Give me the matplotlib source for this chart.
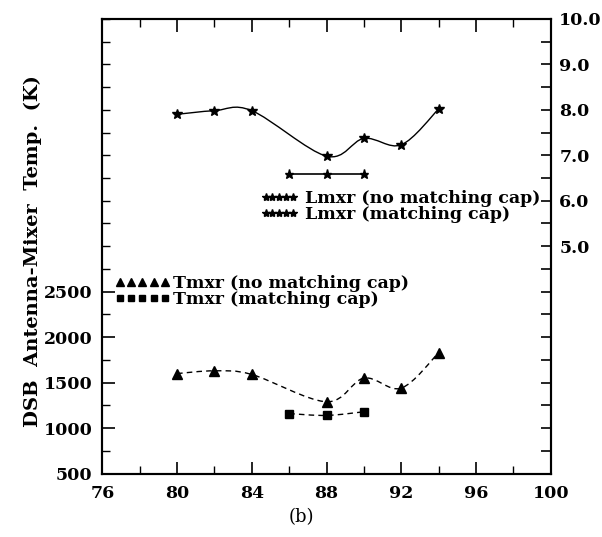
import numpy as np
import matplotlib
matplotlib.use("Agg")
import matplotlib.pyplot as plt
from matplotlib.path import Path
from matplotlib.patches import PathPatch
from matplotlib.ticker import MultipleLocator, FixedLocator, FixedFormatter

plt.rcParams['font.family'] = ['DejaVu Serif']

# frequency (GHz)
freq_no_cap = [80, 82, 84, 88, 90, 92, 94]
freq_cap = [86, 88, 90]

# mixer noise temperature (K), left axis
tmxr_no_cap = [1600, 1630, 1590, 1290, 1550, 1440, 1830]
tmxr_cap = [1160, 1140, 1180]

# mixer conversion loss (dB), right axis
lmxr_no_cap = [7.90, 7.98, 7.98, 6.98, 7.37, 7.23, 8.02]
lmxr_cap = [6.59, 6.59, 6.59]

left_ticks = [500, 1000, 1500, 2000, 2500]
right_ticks = [5.0, 6.0, 7.0, 8.0, 9.0, 10.0]


def smooth_path(xs, ys):
    # catmull-rom through the points, as bezier segments
    pts = np.column_stack([xs, ys]).astype(float)
    verts = [pts[0]]
    codes = [Path.MOVETO]
    n = len(pts)
    for i in range(n - 1):
        p0 = pts[i - 1] if i > 0 else pts[i]
        p1 = pts[i]
        p2 = pts[i + 1]
        p3 = pts[i + 2] if i + 2 < n else pts[i + 1]
        c1 = p1 + (p2 - p0) / 6.0
        c2 = p2 - (p3 - p1) / 6.0
        verts += [c1, c2, p2]
        codes += [Path.CURVE4] * 3
    return Path(verts, codes)


fig = plt.figure(figsize=(6.02, 5.37), dpi=100)
ax = fig.add_axes([0.170, 0.118, 0.745, 0.847])
ax2 = ax.twinx()

# left axis curves
ax.add_patch(PathPatch(smooth_path(freq_no_cap, tmxr_no_cap), fill=False,
                       edgecolor='black', lw=1.0, ls=(0, (4, 3))))
ax.plot(freq_no_cap, tmxr_no_cap, ls='none', marker='^', ms=7, color='black')
ax.add_patch(PathPatch(smooth_path(freq_cap, tmxr_cap), fill=False,
                       edgecolor='black', lw=1.0, ls=(0, (4, 3))))
ax.plot(freq_cap, tmxr_cap, ls='none', marker='s', ms=6, color='black')

# right axis curves
ax2.add_patch(PathPatch(smooth_path(freq_no_cap, lmxr_no_cap), fill=False,
                        edgecolor='black', lw=1.0))
ax2.plot(freq_no_cap, lmxr_no_cap, ls='none', marker='*', ms=7.5, color='black')
ax2.plot(freq_cap, lmxr_cap, ls='-', lw=1.2, marker='*', ms=6.5, color='black')

ax.set_xlim(76, 100)
ax.set_ylim(500, 5500)
ax2.set_ylim(0, 10)

ax.xaxis.set_major_locator(MultipleLocator(4))
ax.xaxis.set_minor_locator(MultipleLocator(2))
ax.yaxis.set_major_locator(FixedLocator(left_ticks))
ax.yaxis.set_minor_locator(MultipleLocator(250))
ax2.yaxis.set_major_locator(FixedLocator(right_ticks))
ax2.yaxis.set_major_formatter(FixedFormatter(['%.1f' % v for v in right_ticks]))
ax2.yaxis.set_minor_locator(MultipleLocator(0.5))

ax.tick_params(axis='x', which='both', direction='in', top=True, labelsize=12.5, pad=8)
ax.tick_params(axis='x', which='major', length=9, width=1.2)
ax.tick_params(axis='x', which='minor', length=6, width=1.0)
ax.tick_params(axis='y', which='major', direction='in', length=9, width=1.2, labelsize=12.5, pad=7)
ax.tick_params(axis='y', which='minor', direction='in', length=6, width=1.0)
ax2.tick_params(axis='y', which='both', direction='in', length=7, width=1.2, labelsize=12.5, pad=6)
for lab in ax.get_xticklabels() + ax.get_yticklabels() + ax2.get_yticklabels():
    lab.set_fontweight('bold')

for a in (ax, ax2):
    for s in a.spines.values():
        s.set_linewidth(1.5)

ax.set_ylabel('DSB  Antenna-Mixer  Temp.  (K)', fontsize=14, fontweight='bold')
ax.yaxis.set_label_coords(-0.135, 0.49)

# legends
l_h1, = ax2.plot([], [], ls='-', lw=0.8, marker='*', ms=6, color='black')
l_h2, = ax2.plot([], [], ls=':', lw=0.8, marker='*', ms=6, color='black')
leg1 = ax2.legend([l_h1, l_h2], ['Lmxr (no matching cap)', 'Lmxr (matching cap)'],
                  loc='upper left', bbox_to_anchor=(0.418, 0.663),
                  bbox_transform=fig.transFigure, frameon=False, numpoints=5,
                  handlelength=2.2, handletextpad=0.35, labelspacing=-0.05,
                  borderpad=0.0, prop={'size': 12.5, 'weight': 'bold'})

t_h1, = ax2.plot([], [], ls='none', marker='^', ms=5.5, color='black')
t_h2, = ax2.plot([], [], ls='none', marker='s', ms=5, color='black')
leg2 = ax2.legend([t_h1, t_h2], ['Tmxr (no matching cap)', 'Tmxr (matching cap)'],
                  loc='upper left', bbox_to_anchor=(0.176, 0.504),
                  bbox_transform=fig.transFigure, frameon=False, numpoints=5,
                  handlelength=3.2, handletextpad=0.15, labelspacing=-0.05,
                  borderpad=0.0, prop={'size': 12.5, 'weight': 'bold'})
ax2.add_artist(leg1)

fig.text(0.5, 0.037, '(b)', ha='center', va='center', fontsize=13)

fig.savefig('out.png', dpi=100)
